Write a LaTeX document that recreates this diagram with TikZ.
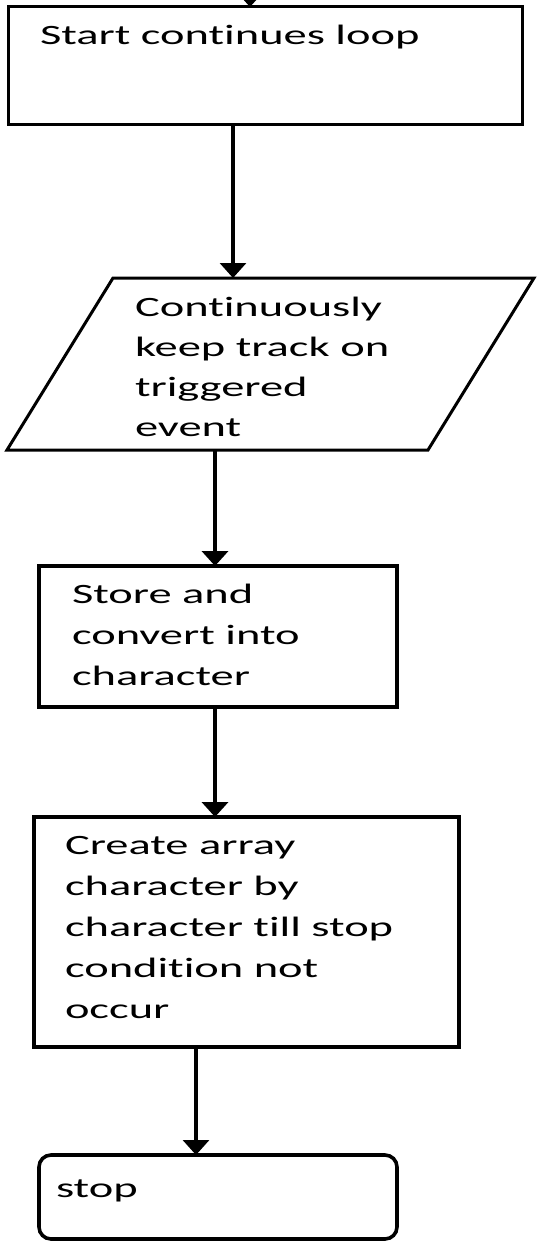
\documentclass[tikz,border=0pt]{standalone}
\usepackage{fontspec}
\setmainfont[FakeStretch=1.66,Ligatures={NoCommon}]{Carlito}
\usetikzlibrary{arrows.meta}
\tikzset{
  boxshape/.style={draw=black,line width=1.5pt,inner sep=0pt,outer sep=0pt,fill=white},
  txt/.style={inner sep=0pt,outer sep=0pt,align=left,font=\fontsize{14pt}{20.5pt}\selectfont,anchor=base west},
  arr/.style={line width=1.8pt,-{Triangle[width=13pt,length=7.5pt]}}
}
\begin{document}
\begin{tikzpicture}[x=0.5pt,y=-0.5pt]
\useasboundingbox[fill=white] (0,0) rectangle (537,1241);
% shapes
\node[boxshape,minimum width=257pt,minimum height=59pt] (start) at (265,66) {};
\coordinate (ptl) at (113,278);
\coordinate (ptr) at (534,278);
\coordinate (pbr) at (428,450);
\coordinate (pbl) at (7,450);
\draw[line width=1.5pt,line join=miter] (ptl) -- (ptr) -- (pbr) -- (pbl) -- cycle;
\node[boxshape,line width=2pt,minimum width=179pt,minimum height=70.5pt] (store) at (218,636.5) {};
\node[boxshape,line width=1.8pt,minimum width=212.5pt,minimum height=115pt] (array) at (246.5,932) {};
\node[boxshape,line width=1.8pt,rounded corners=6pt,minimum width=179pt,minimum height=42pt] (stop) at (218,1197) {};
% texts (anchor = baseline of last line)
\node[txt] (tstart) at (40,45) {Start continues loop};
\node[txt,font=\fontsize{14pt}{20pt}\selectfont] (ttrack) at (135,436) {Continuously\\keep track on\\triggered\\event};
\node[txt] (tstore) at (72,685) {Store and\\convert into\\character};
\node[txt] (tarray) at (65,1018) {Create array\\character by\\character till stop\\condition not\\occur};
\node[txt] (tstop) at (56,1197) {stop};
% connectors
\coordinate (in) at (250,-12);
\draw[arr] (in) -- (start.north -| in);
\draw[arr,line width=1.6pt] (start.south -| 233,0) -- (ptl -| 233,0);
\draw[arr,line width=2pt] (pbl -| 215,0) -- (store.north -| 215,0);
\draw[arr,line width=2pt] (store.south -| 215,0) -- (array.north -| 215,0);
\draw[arr,line width=1.6pt] (array.south -| 196,0) -- (stop.north -| 196,0);
\end{tikzpicture}
\end{document}
